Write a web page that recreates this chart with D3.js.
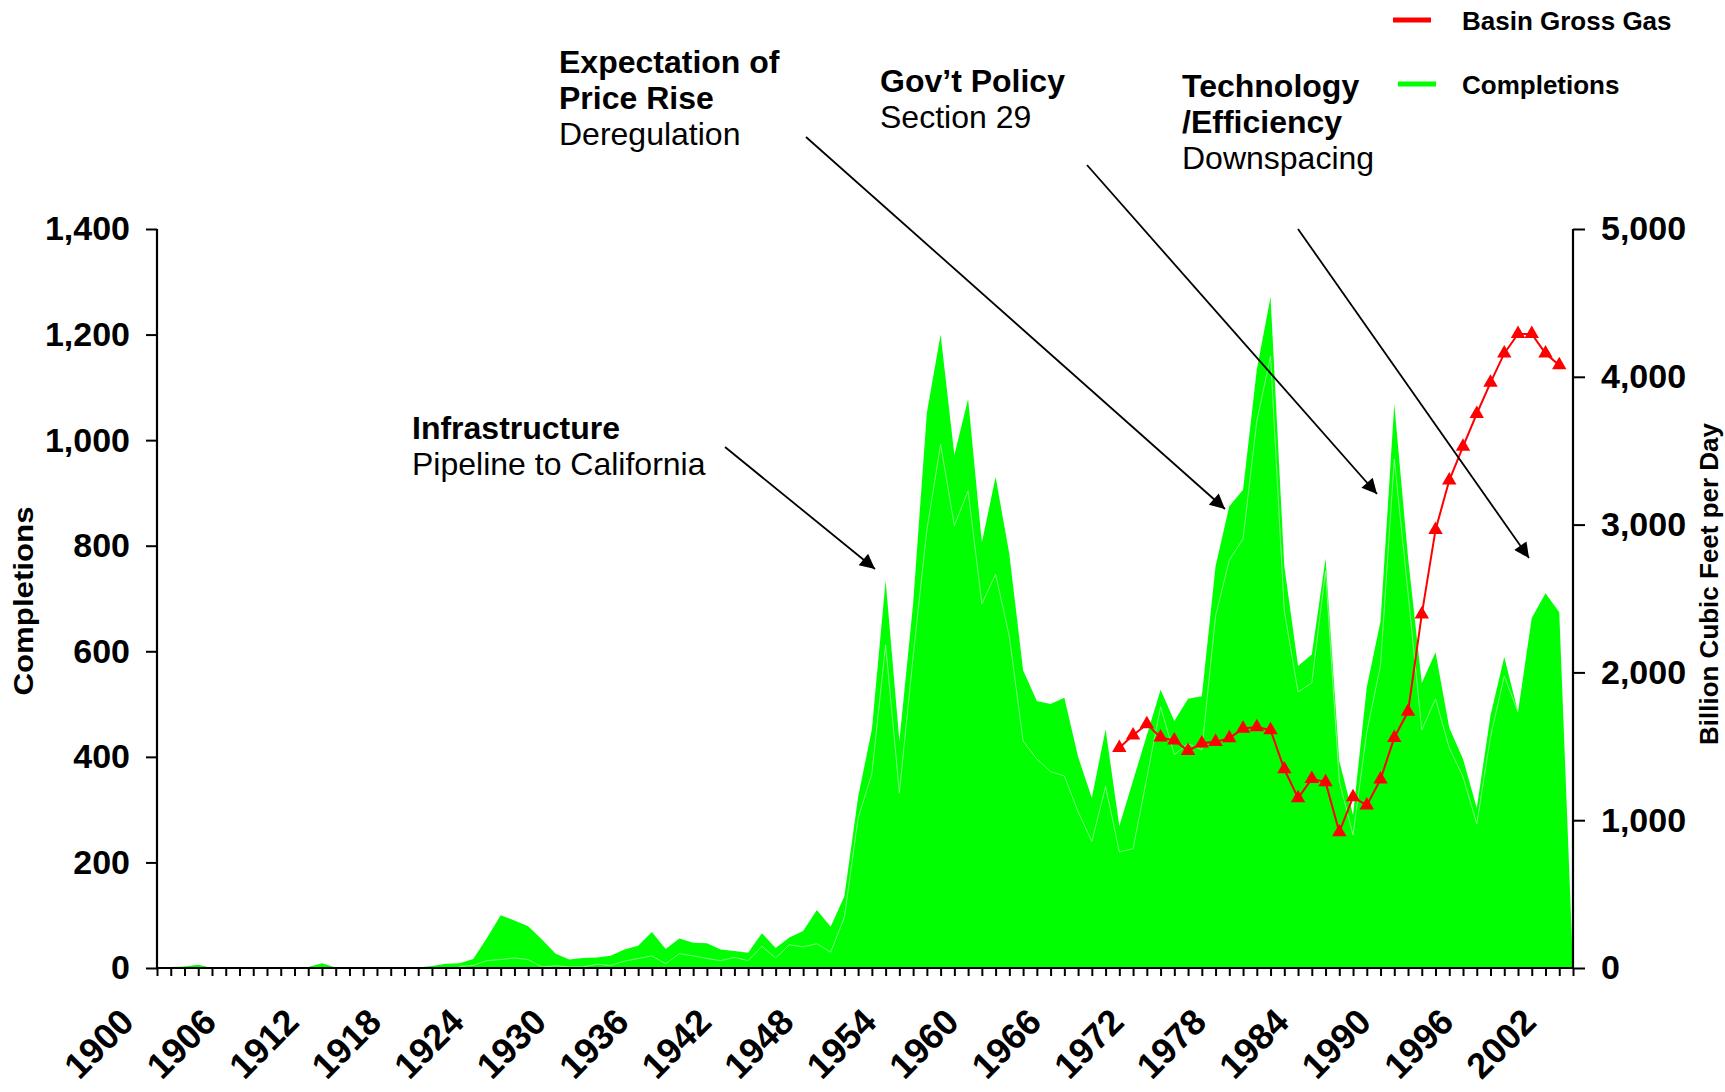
<!DOCTYPE html>
<html>
<head>
<meta charset="utf-8">
<script src="https://cdn.jsdelivr.net/npm/d3@7"></script>
<style>
  html, body { margin: 0; padding: 0; background: #fff; }
  svg text { font-family: "Liberation Sans", Arial, sans-serif; fill: #000; }
  .tick-label { font-size: 34px; font-weight: bold; }
  .year-label { font-size: 36px; font-weight: bold; }
  .note-bold { font-size: 32px; font-weight: bold; }
  .note-reg { font-size: 32px; }
  .legend-label { font-size: 26px; font-weight: bold; }
</style>
</head>
<body>
<div id="chart"></div>
<script>
/*******************************/
/*            Data             */
/*******************************/

var firstYear = 1900;

// well completions per year, 1900 - 2003 (top of the green area)
var completions = [
  0, 2, 3, 6, 0, 0, 0, 0, 0, 0,
  0, 2, 9, 1, 0, 0, 0, 0, 0, 1,
  4, 8, 9, 17, 57, 100, 90, 79, 54, 27,
  16, 19, 20, 23, 35, 42, 68, 36, 56, 48,
  47, 35, 32, 29, 66, 38, 58, 70, 110, 78,
  136, 324, 452, 734, 430, 690, 1052, 1200, 972, 1078,
  806, 930, 784, 564, 506, 500, 512, 400, 322, 452,
  269, 355, 441, 527, 468, 510, 515, 761, 875, 906,
  1134, 1271, 761, 572, 594, 776, 392, 290, 532, 657,
  1068, 778, 540, 598, 455, 396, 303, 479, 589, 485,
  663, 710, 674, 0
];

// lower part of the completions (faint inner line)
var completionsInner = [
  0, 1, 1, 2, 0, 0, 0, 0, 0, 0,
  0, 1, 3, 0, 0, 0, 0, 0, 0, 0,
  1, 2, 3, 5, 14, 16, 19, 16, 2, 4,
  2, 2, 7, 5, 13, 18, 23, 8, 27, 23,
  18, 14, 20, 14, 41, 19, 44, 40, 46, 30,
  96, 284, 368, 612, 332, 590, 830, 992, 838, 904,
  690, 746, 628, 430, 396, 372, 364, 296, 240, 344,
  220, 226, 360, 495, 404, 425, 413, 667, 773, 813,
  1036, 1159, 676, 523, 540, 752, 354, 252, 447, 574,
  964, 710, 451, 510, 417, 362, 273, 438, 553, 485,
  663, 710, 674, 0
];

// basin gross gas, 1970 - 2002
var gasFirstYear = 1970;
var basinGas = [
  1490, 1575, 1650, 1560, 1540, 1470, 1520, 1530, 1555, 1620,
  1630, 1610, 1345, 1150, 1280, 1258, 920, 1156, 1100, 1277,
  1558, 1735, 2393, 2964, 3300, 3528, 3750, 3961, 4158, 4290,
  4290, 4158, 4079
];

var leftTicks = [0, 200, 400, 600, 800, 1000, 1200, 1400];
var rightTicks = [0, 1000, 2000, 3000, 4000, 5000];
var yearLabels = [1900, 1906, 1912, 1918, 1924, 1930, 1936, 1942, 1948,
                  1954, 1960, 1966, 1972, 1978, 1984, 1990, 1996, 2002];

var notes = [
  { lines: [["Infrastructure", true], ["Pipeline to California", false]], x: 412, y: 439 },
  { lines: [["Expectation of", true], ["Price Rise", true], ["Deregulation", false]], x: 559, y: 73 },
  { lines: [["Gov\u2019t Policy", true], ["Section 29", false]], x: 880, y: 92 },
  { lines: [["Technology", true], ["/Efficiency", true], ["Downspacing", false]], x: 1182, y: 97 }
];

var arrows = [
  [[725, 447], [875, 569]],
  [[806, 137], [1225, 509]],
  [[1087, 165], [1377, 494]],
  [[1298, 229], [1529, 558]]
];

/*******************************/
/*        Chart setup          */
/*******************************/

var width = 1725,
    height = 1092;

var plot = { left: 157, right: 1573, top: 229, bottom: 968 };

var svg = d3.select("#chart").append("svg")
  .attr("width", width)
  .attr("height", height);

var years = completions.map(function(d, i) { return firstYear + i; });
var rows = years.map(function(yr, i) {
  return { year: yr, total: completions[i], inner: completionsInner[i] };
});
var gasRows = basinGas.map(function(v, i) { return { year: gasFirstYear + i, value: v }; });

var x = d3.scaleLinear()
  .domain([firstYear, years[years.length - 1]])
  .range([plot.left, plot.right]);

var yLeft = d3.scaleLinear()
  .domain([0, 1400])
  .range([plot.bottom, plot.top]);

var yRight = d3.scaleLinear()
  .domain([0, 5000])
  .range([plot.bottom, plot.top]);

/*******************************/
/*         Green area          */
/*******************************/

var area = d3.area()
  .x(function(d) { return x(d.year); })
  .y0(yLeft(0))
  .y1(function(d) { return yLeft(d.total); });

svg.append("path")
  .datum(rows)
  .attr("d", area)
  .attr("fill", "#00ff00");

var innerLine = d3.line()
  .x(function(d) { return x(d.year); })
  .y(function(d) { return yLeft(d.inner); });

svg.append("path")
  .datum(rows.filter(function(d) { return d.year >= 1922 && d.year <= 1999; }))
  .attr("d", innerLine)
  .attr("fill", "none")
  .attr("stroke", "#b0ffb0")
  .attr("stroke-width", 0.7);

/*******************************/
/*           Axes              */
/*******************************/

var axisLeft = d3.axisLeft(yLeft)
  .tickValues(leftTicks)
  .tickSize(11)
  .tickPadding(16)
  .tickFormat(d3.format(","));

var gLeft = svg.append("g")
  .attr("transform", "translate(" + plot.left + ",0)")
  .call(axisLeft);

var axisRight = d3.axisRight(yRight)
  .tickValues(rightTicks)
  .tickSize(12)
  .tickPadding(16)
  .tickFormat(d3.format(","));

var gRight = svg.append("g")
  .attr("transform", "translate(" + plot.right + ",0)")
  .call(axisRight);

var axisBottom = d3.axisBottom(x)
  .tickValues(years)
  .tickSize(8)
  .tickFormat("");

var gBottom = svg.append("g")
  .attr("transform", "translate(0," + plot.bottom + ")")
  .call(axisBottom);

[gLeft, gRight, gBottom].forEach(function(g) {
  g.select(".domain").attr("stroke", "#000").attr("stroke-width", 2.2);
  g.selectAll(".tick line").attr("stroke", "#000").attr("stroke-width", 2);
  g.selectAll(".tick text")
    .attr("class", "tick-label")
    .attr("font-family", null)
    .attr("font-size", null);
});
gLeft.select(".domain").attr("d", "M0," + plot.top + "V" + plot.bottom);
gRight.select(".domain").attr("d", "M0," + plot.top + "V" + plot.bottom);
gBottom.select(".domain").attr("d", "M" + plot.left + ",0H" + plot.right);

// rotated year labels
svg.append("g").selectAll("text")
  .data(yearLabels)
  .enter()
  .append("text")
  .attr("class", "year-label")
  .attr("text-anchor", "end")
  .attr("transform", function(d) {
    return "translate(" + (x(d) - 21) + "," + (plot.bottom + 56) + ") rotate(-45)";
  })
  .text(function(d) { return d; });

// axis titles
svg.append("text")
  .attr("transform", "translate(33,601) rotate(-90)")
  .attr("text-anchor", "middle")
  .attr("font-size", "28px")
  .attr("font-weight", "bold")
  .attr("textLength", 189)
  .attr("lengthAdjust", "spacingAndGlyphs")
  .text("Completions");

svg.append("text")
  .attr("transform", "translate(1718,584) rotate(-90)")
  .attr("text-anchor", "middle")
  .attr("font-size", "25px")
  .attr("font-weight", "bold")
  .attr("textLength", 322)
  .attr("lengthAdjust", "spacingAndGlyphs")
  .text("Billion Cubic Feet per Day");

/*******************************/
/*        Basin gas line       */
/*******************************/

var gasLine = d3.line()
  .x(function(d) { return x(d.year); })
  .y(function(d) { return yRight(d.value); });

svg.append("path")
  .datum(gasRows)
  .attr("d", gasLine)
  .attr("fill", "none")
  .attr("stroke", "#ff0000")
  .attr("stroke-width", 2);

svg.append("g").selectAll("path")
  .data(gasRows)
  .enter()
  .append("path")
  .attr("d", d3.symbol().type(d3.symbolTriangle).size(90))
  .attr("transform", function(d) { return "translate(" + x(d.year) + "," + yRight(d.value) + ")"; })
  .attr("fill", "#ff0000");

/*******************************/
/*        Annotations          */
/*******************************/

svg.append("defs").append("marker")
  .attr("id", "arrow")
  .attr("viewBox", "0 0 10 10")
  .attr("refX", 10)
  .attr("refY", 5)
  .attr("markerUnits", "userSpaceOnUse")
  .attr("markerWidth", 20)
  .attr("markerHeight", 15)
  .attr("orient", "auto")
  .append("path")
  .attr("d", "M0,0L10,5L0,10z")
  .attr("fill", "#000");

svg.append("g").selectAll("line")
  .data(arrows)
  .enter()
  .append("line")
  .attr("x1", function(d) { return d[0][0]; })
  .attr("y1", function(d) { return d[0][1]; })
  .attr("x2", function(d) { return d[1][0]; })
  .attr("y2", function(d) { return d[1][1]; })
  .attr("stroke", "#000")
  .attr("stroke-width", 1.8)
  .attr("marker-end", "url(#arrow)");

notes.forEach(function(n) {
  var t = svg.append("text").attr("x", n.x).attr("y", n.y);
  n.lines.forEach(function(l, i) {
    t.append("tspan")
      .attr("x", n.x)
      .attr("dy", i === 0 ? 0 : 36)
      .attr("class", l[1] ? "note-bold" : "note-reg")
      .text(l[0]);
  });
});

/*******************************/
/*           Legend            */
/*******************************/

var legend = [
  { name: "Basin Gross Gas", color: "#ff0000", x: 1393, y: 20 },
  { name: "Completions", color: "#00ff00", x: 1398, y: 84 }
];

var lg = svg.append("g").selectAll("g")
  .data(legend)
  .enter()
  .append("g");

lg.append("line")
  .attr("x1", function(d) { return d.x; })
  .attr("x2", function(d) { return d.x + 38; })
  .attr("y1", function(d) { return d.y; })
  .attr("y2", function(d) { return d.y; })
  .attr("stroke", function(d) { return d.color; })
  .attr("stroke-width", 5);

lg.append("text")
  .attr("class", "legend-label")
  .attr("x", 1462)
  .attr("y", function(d) { return d.y + 10; })
  .text(function(d) { return d.name; });
</script>
</body>
</html>
